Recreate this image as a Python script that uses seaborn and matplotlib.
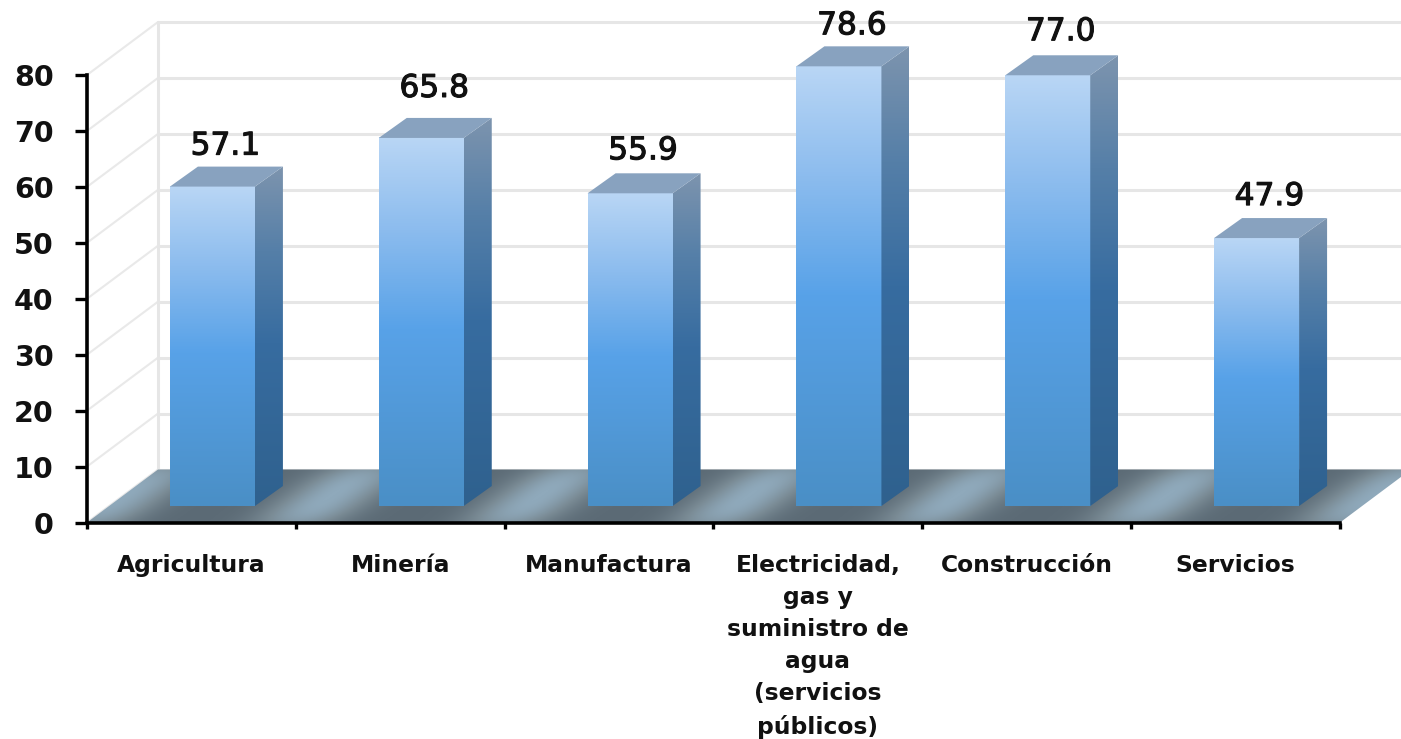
import numpy as np
import seaborn as sns
import matplotlib.pyplot as plt
import matplotlib.patheffects as pe
from matplotlib.colors import LinearSegmentedColormap
from matplotlib.patches import Polygon
from matplotlib.transforms import offset_copy

CATEGORIES = ["Agricultura", "Minería", "Manufactura",
              "Electricidad,\ngas y\nsuministro de\nagua\n(servicios\npúblicos)",
              "Construcción", "Servicios"]
VALUES = [57.1, 65.8, 55.9, 78.6, 77.0, 47.9]
VALUE_LABELS = ["57.1", "65.8", "55.9", "78.6", "77.0", "47.9"]
Y_TICKS = [0, 10, 20, 30, 40, 50, 60, 70, 80]

# gap between each bar top and its label, pixels
LABEL_LIFT = [32, 41, 34, 32, 35, 33]

W, H = 1401, 739
X0, X1, Y0, Y80 = 87, 1340, 522.5, 75
PX_X = 6 / (X1 - X0)
PX_Y = 80 / (Y0 - Y80)
BACK_DX, BACK_DY = 71, 53
BAR_DX, BAR_DY = 21, 16.5
SIDE_DX, SIDE_DY = 28, 20

FRONT_CMAP = LinearSegmentedColormap.from_list(
    "front", [(0, "#4a8fc6"), (0.48, "#58a2e8"), (0.75, "#8cbcee"), (1, "#b9d6f5")])
SIDE_CMAP = LinearSegmentedColormap.from_list(
    "side", [(0, "#2f618e"), (0.48, "#376ca0"), (0.75, "#557fa8"), (1, "#7d94ae")])
FLOOR_CMAP = LinearSegmentedColormap.from_list(
    "floor", ["#5c6b76", "#7a8b95", "#8fa9bb"])


def floor_shading():
    cols = np.arange(X1 - X0 + BACK_DX)
    rows = np.linspace(1, 0, BACK_DY)
    xx, tt = np.meshgrid(cols, rows)
    u = (xx - BACK_DX * tt) / ((X1 - X0) / 6)
    stripes = (0.5 + 0.5 * np.cos(2 * np.pi * u)) ** 2
    edge = 1 - 0.3 * (np.abs(tt - 0.5) * 2) ** 3
    return stripes * edge


def main():
    sns.set_theme(style="white")
    plt.rcParams["font.family"] = ["DejaVu Sans"]

    fig = plt.figure(figsize=(W / 100, H / 100), dpi=100)
    ax = fig.add_axes([X0 / W, (H - Y0) / H, (X1 - X0) / W, (Y0 - Y80) / H])

    sns.barplot(x=list(range(6)), y=VALUES, color="#58a2e8", width=85 * PX_X,
                saturation=1, linewidth=0, ax=ax, zorder=3)

    bar_tf = offset_copy(ax.transData, fig=fig, x=BAR_DX, y=BAR_DY, units="dots")
    back_tf = offset_copy(ax.transData, fig=fig, x=BACK_DX, y=BACK_DY, units="dots")

    # back wall and side wall lines
    for v in Y_TICKS:
        ax.plot([-0.5, 5.5], [v, v], transform=back_tf, color="#e6e6e6", lw=2.2,
                clip_on=False, zorder=1)
        ax.plot([-0.5, -0.5 + BACK_DX * PX_X], [v, v + BACK_DY * PX_Y],
                color="#e9e9e9", lw=1.5, clip_on=False, zorder=1)
    ax.plot([-0.5, -0.5], [0, 80], transform=back_tf, color="#e6e6e6", lw=2.2,
            clip_on=False, zorder=1)

    # floor
    fx = BACK_DX * PX_X
    fy = BACK_DY * PX_Y
    floor = ax.imshow(floor_shading(), cmap=FLOOR_CMAP, aspect="auto",
                      extent=[-0.5, 5.5 + fx, 0, fy], zorder=1.5)
    floor.set_clip_box(fig.bbox)
    floor.set_clip_path(Polygon([(-0.5, 0), (5.5, 0), (5.5 + fx, fy), (-0.5 + fx, fy)],
                                transform=ax.transData))

    ramp = np.linspace(1, 0, 256).reshape(-1, 1)
    dx = SIDE_DX * PX_X
    dy = SIDE_DY * PX_Y
    for patch in ax.patches:
        patch.set_transform(bar_tf)
        patch.set_clip_on(False)
        left, right = patch.get_x(), patch.get_x() + patch.get_width()
        top = patch.get_height()

        front = ax.imshow(ramp, cmap=FRONT_CMAP, aspect="auto", transform=bar_tf,
                          interpolation="bilinear", extent=[left, right, 0, top], zorder=3.2)
        front.set_clip_on(False)

        side = ax.imshow(ramp, cmap=SIDE_CMAP, aspect="auto", transform=bar_tf,
                         interpolation="bilinear", extent=[right, right + dx, 0, top + dy],
                         zorder=3.2)
        side.set_clip_box(fig.bbox)
        side.set_clip_path(Polygon([(right, 0), (right + dx, dy), (right + dx, top + dy),
                                    (right, top)], transform=bar_tf))

        ax.add_patch(Polygon([(left, top), (right, top), (right + dx, top + dy),
                              (left + dx, top + dy)], closed=True, transform=bar_tf,
                             facecolor="#88a2bf", edgecolor="none", clip_on=False,
                             zorder=3.2))

    for i, (v, text, lift) in enumerate(zip(VALUES, VALUE_LABELS, LABEL_LIFT)):
        ax.annotate(text, xy=(i, v), xytext=(BAR_DX + 13, BAR_DY + lift),
                    textcoords="offset pixels", ha="center", va="baseline",
                    fontsize=22.5, color="#111111", annotation_clip=False, zorder=5,
                    path_effects=[pe.withStroke(linewidth=0.8, foreground="#111111")])

    ax.set_xlim(-0.5, 5.5)
    ax.set_ylim(0, 80)
    ax.set_xlabel("")
    ax.set_ylabel("")

    ax.set_yticks(Y_TICKS)
    ax.set_yticklabels([str(t) for t in Y_TICKS], fontsize=20.5, fontweight="bold",
                       color="#111111")
    ax.set_xticks(np.arange(-0.5, 6))
    ax.set_xticklabels([])
    ax.set_xticks(range(6), labels=CATEGORIES, minor=True)
    ax.tick_params(axis="y", length=9, width=2.4, pad=15, left=True, color="black")
    ax.tick_params(axis="x", which="major", length=4.5, width=2.4, bottom=True, color="black")
    ax.tick_params(axis="x", which="minor", length=0, pad=23)
    for label in ax.get_xticklabels(minor=True):
        label.set_fontsize(16.8)
        label.set_fontweight("bold")
        label.set_color("#111111")
        label.set_linespacing(1.5)

    sns.despine(ax=ax)
    for name in ("left", "bottom"):
        ax.spines[name].set_linewidth(2.6)
        ax.spines[name].set_color("black")
        ax.spines[name].set_zorder(6)

    fig.savefig("out.png", dpi=100)


if __name__ == "__main__":
    main()
